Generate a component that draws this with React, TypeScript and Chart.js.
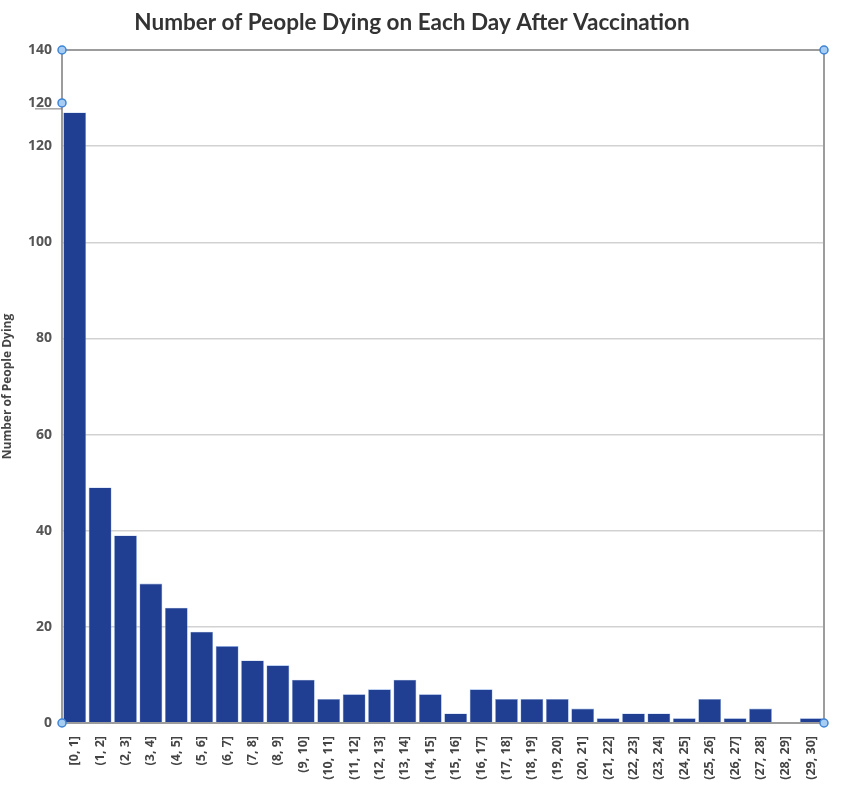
import { useEffect, useRef } from "react";
import { Chart, registerables } from "chart.js";

Chart.register(...registerables);

const categories = [
  "[0, 1]", "(1, 2]", "(2, 3]", "(3, 4]", "(4, 5]", "(5, 6]", "(6, 7]", "(7, 8]",
  "(8, 9]", "(9, 10]", "(10, 11]", "(11, 12]", "(12, 13]", "(13, 14]", "(14, 15]",
  "(15, 16]", "(16, 17]", "(17, 18]", "(18, 19]", "(19, 20]", "(20, 21]", "(21, 22]",
  "(22, 23]", "(23, 24]", "(24, 25]", "(25, 26]", "(26, 27]", "(27, 28]", "(28, 29]",
  "(29, 30]",
];

const deaths = [
  127, 49, 39, 29, 24, 19, 16, 13, 12, 9, 5, 6, 7, 9, 6, 2, 7, 5, 5, 5, 3, 1, 2, 2,
  1, 5, 1, 3, 0, 1,
];

const yMax = 140;
const yStep = 20;

// stray label + selection handles left over in the original screenshot
const extraLabel = "120";
const extraLabelValue = 129;

const frame = {
  id: "frame",
  afterDraw(chart: any) {
    const { ctx, chartArea: a, scales } = chart;
    ctx.save();
    ctx.strokeStyle = "#9c9c9c";
    ctx.lineWidth = 2;
    ctx.strokeRect(a.left, a.top, a.right - a.left, a.bottom - a.top);

    const yy = scales.y.getPixelForValue(extraLabelValue);
    ctx.fillStyle = "#555";
    ctx.font = "bold 14px 'Open Sans'";
    ctx.textAlign = "right";
    ctx.textBaseline = "middle";
    ctx.fillText(extraLabel, a.left - 10, yy);
    ctx.strokeStyle = "#777";
    ctx.lineWidth = 1;
    ctx.beginPath();
    ctx.moveTo(a.left - 27, yy + 6);
    ctx.lineTo(a.left, yy + 6);
    ctx.stroke();

    const handles = [
      [a.left, a.top],
      [a.right, a.top],
      [a.left, a.bottom],
      [a.right, a.bottom],
      [a.left, yy],
    ];
    for (const [hx, hy] of handles) {
      ctx.beginPath();
      ctx.arc(hx, hy, 4, 0, Math.PI * 2);
      ctx.fillStyle = "#a8cdf2";
      ctx.fill();
      ctx.strokeStyle = "#3f85d6";
      ctx.lineWidth = 1.5;
      ctx.stroke();
    }
    ctx.restore();
  },
};

export default function App() {
  const canvasRef = useRef<HTMLCanvasElement>(null);

  useEffect(() => {
    document.body.style.margin = "0";
    const chart = new Chart(canvasRef.current!, {
      type: "bar",
      data: {
        labels: categories,
        datasets: [
          {
            data: deaths,
            backgroundColor: "#213f92",
            borderColor: "#8fb0e6",
            borderWidth: 0.6,
            barPercentage: 0.9,
            categoryPercentage: 1,
          },
        ],
      },
      options: {
        animation: false,
        responsive: false,
        layout: { padding: { left: 0, right: 17, top: 0, bottom: 0 } },
        plugins: {
          legend: { display: false },
          tooltip: { enabled: false },
          title: {
            display: true,
            text: "Number of People Dying on Each Day After Vaccination",
            color: "#333",
            font: { family: "Lato", size: 22.5, weight: "bold" },
            padding: { top: 9, bottom: 14 },
          },
        },
        scales: {
          x: {
            grid: { display: false },
            border: { display: false },
            ticks: {
              autoSkip: false,
              maxRotation: 90,
              minRotation: 90,
              color: "#444",
              font: { family: "Open Sans", size: 12.5, weight: "bold" },
              padding: 5,
            },
            afterFit: (s: any) => {
              s.height = 77;
            },
          },
          y: {
            min: 0,
            max: yMax,
            grid: { color: "#d2d2d2", lineWidth: 1.5, drawTicks: false },
            border: { display: false },
            ticks: {
              stepSize: yStep,
              color: "#555",
              font: { family: "Open Sans", size: 14, weight: "bold" },
              padding: 10,
            },
            title: {
              display: true,
              text: "Number of People Dying",
              color: "#444",
              font: { family: "Open Sans", size: 12, weight: "bold" },
              padding: { top: 0, bottom: 4 },
            },
            afterFit: (s: any) => {
              s.width = 62;
            },
          },
        },
      },
      plugins: [frame],
    });
    return () => chart.destroy();
  }, []);

  return (
    <div style={{ width: 841, height: 800, background: "#fff" }}>
      <canvas ref={canvasRef} width={841} height={800} />
    </div>
  );
}
